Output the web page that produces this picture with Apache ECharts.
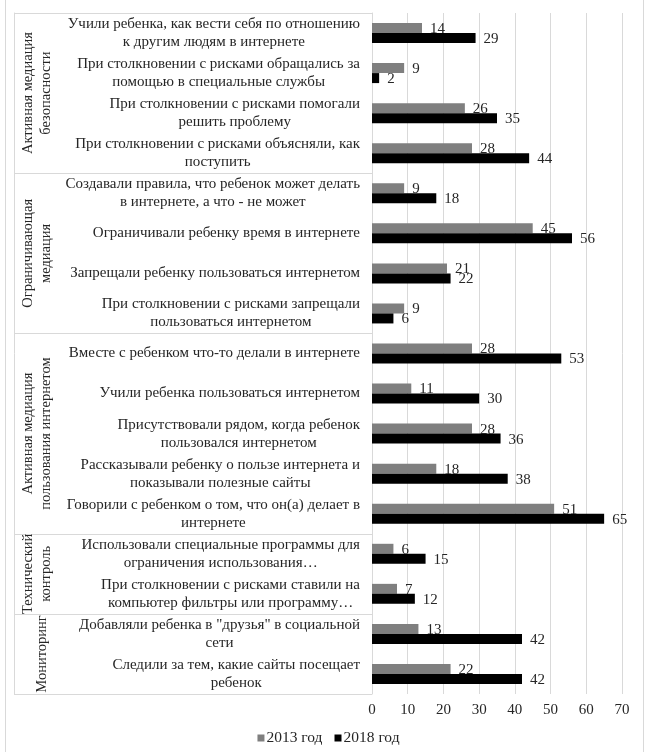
<!DOCTYPE html>
<html><head><meta charset="utf-8">
<script src="https://cdn.jsdelivr.net/npm/echarts@6/dist/echarts.min.js"></script>
<style>
html,body{margin:0;padding:0;background:#fff;}
#c{position:absolute;left:0;top:0;width:657px;height:752px;}
#frame{position:absolute;left:5px;top:0;width:637px;height:752px;border-left:1px solid #d9d9d9;border-right:1px solid #d9d9d9;pointer-events:none;}
</style></head>
<body><div id="c"></div><div id="frame"></div>
<script>
const categories = [
  'Учили ребенка, как вести себя по отношению\nк другим людям в интернете',
  'При столкновении с рисками обращались за\nпомощью в специальные службы',
  'При столкновении с рисками помогали\nрешить проблему',
  'При столкновении с рисками объясняли, как\nпоступить',
  'Создавали правила, что ребенок может делать\nв интернете, а что - не может',
  'Ограничивали ребенку время в интернете',
  'Запрещали ребенку пользоваться интернетом',
  'При столкновении с рисками запрещали\nпользоваться интернетом',
  'Вместе с ребенком что-то делали в интернете',
  'Учили ребенка пользоваться интернетом',
  'Присутствовали рядом, когда ребенок\nпользовался интернетом',
  'Рассказывали ребенку о пользе интернета и\nпоказывали полезные сайты',
  'Говорили с ребенком о том, что он(а) делает в\nинтернете',
  'Использовали специальные программы для\nограничения использования…',
  'При столкновении с рисками ставили на\nкомпьютер фильтры или программу…',
  'Добавляли ребенка в "друзья" в социальной\nсети',
  'Следили за тем, какие сайты посещает\nребенок'
];
const values2013 = [14, 9, 26, 28, 9, 45, 21, 9, 28, 11, 28, 18, 51, 6, 7, 13, 22];
const values2018 = [29, 2, 35, 44, 18, 56, 22, 6, 53, 30, 36, 38, 65, 15, 12, 42, 42];
const seriesNames = ['2013 год', '2018 год'];
const groupNames = [
  'Активная медиация\nбезопасности',
  'Ограничивающая\nмедиация',
  'Активная медиация\nпользования интернетом',
  'Технический\nконтроль',
  'Мониторинг'
];
const groupSizes = [4, 4, 5, 2, 2];
const xTicks = [0, 10, 20, 30, 40, 50, 60, 70];

// derived group positions (in category units)
const groupStarts = [];
const groupCenters = [];
let acc = 0;
groupSizes.forEach(s => { groupStarts.push(acc); groupCenters.push(acc + s / 2); acc += s; });

const FONT = 'Liberation Serif';
const TXT = '#262626';
const GRID = '#d9d9d9';

const chart = echarts.init(document.getElementById('c'), null, {renderer: 'canvas'});
chart.setOption({
  animation: false,
  backgroundColor: '#fff',
  textStyle: {fontFamily: FONT, color: TXT},
  grid: {left: 372, right: 35, top: 13, bottom: 58, containLabel: false, outerBoundsMode: 'none'},
  legend: {
    data: seriesNames, bottom: 1, left: 'center', icon: 'rect', itemWidth: 7, itemHeight: 7, itemGap: 12,
    textStyle: {fontFamily: FONT, fontSize: 15.5, color: TXT, padding: [0, 0, 0, -3]}
  },
  xAxis: {
    type: 'value', min: xTicks[0], max: xTicks[xTicks.length - 1], interval: 10,
    axisLine: {show: false}, axisTick: {show: false},
    splitLine: {show: true, lineStyle: {color: GRID, width: 1}},
    axisLabel: {fontFamily: FONT, fontSize: 15, color: TXT, margin: 9}
  },
  yAxis: [
    {
      type: 'category', data: categories, inverse: true,
      axisLine: {show: true, lineStyle: {color: GRID, width: 1}},
      axisTick: {show: true, length: 358, inside: false, interval: (i) => groupStarts.indexOf(i) >= 0, lineStyle: {color: GRID, width: 1}},
      axisLabel: {
        margin: 12,
        formatter: v => '{c|' + v + '}',
        rich: {c: {align: 'center', fontFamily: FONT, fontSize: 15, lineHeight: 18, color: TXT}}
      }
    },
    {
      type: 'value', min: 0, max: acc, inverse: true, position: 'left', offset: 358,
      axisLine: {show: true, lineStyle: {color: GRID, width: 1}},
      axisTick: {show: false}, splitLine: {show: false},
      axisLabel: {
        show: true, inside: true, rotate: 90, margin: 5,
        showMinLabel: true, showMaxLabel: true, hideOverlap: false,
        customValues: groupCenters,
        formatter: v => {
          const i = groupCenters.indexOf(v);
          if (i < 0) return '';
          const n = groupNames[i];
          return n.indexOf('\n') < 0 ? '{m|' + n + '}' : '{g|' + n + '}';
        },
        rich: {
          g: {fontFamily: FONT, fontSize: 14.5, lineHeight: 18, color: TXT},
          m: {fontFamily: FONT, fontSize: 14.5, lineHeight: 18, color: TXT, padding: [28, 0, 0, 0]}
        }
      }
    }
  ],
  series: [
    {
      name: seriesNames[0], type: 'bar', yAxisIndex: 0, data: values2013,
      barWidth: 10, barGap: '0%',
      itemStyle: {color: '#7f7f7f'},
      label: {show: true, position: 'right', distance: 8, offset: [0, 1], fontFamily: FONT, fontSize: 15, color: TXT}
    },
    {
      name: seriesNames[1], type: 'bar', yAxisIndex: 0, data: values2018,
      barWidth: 10, barGap: '0%',
      itemStyle: {color: '#000000'},
      label: {show: true, position: 'right', distance: 8, offset: [0, 1], fontFamily: FONT, fontSize: 15, color: TXT}
    }
  ]
});
</script>
</body></html>
